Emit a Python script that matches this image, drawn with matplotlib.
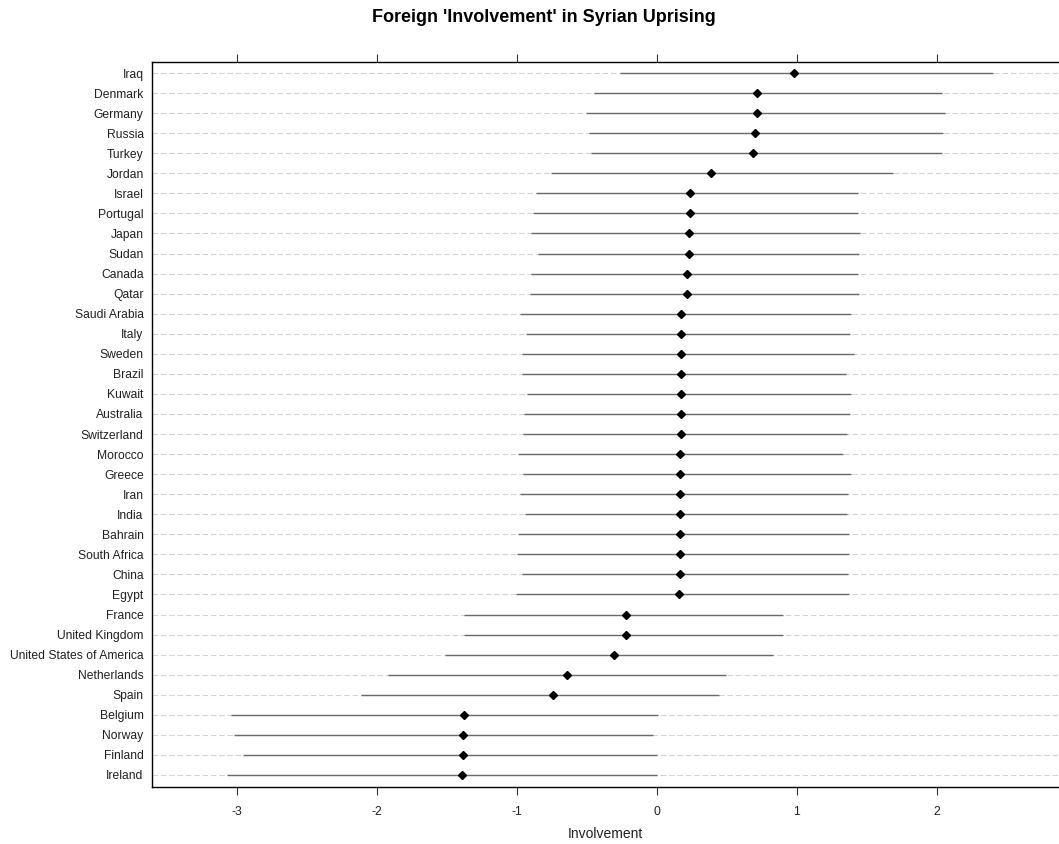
import matplotlib
matplotlib.use("Agg")
import matplotlib.pyplot as plt
import numpy as np

plt.rcParams['font.family'] = ['Liberation Sans', 'DejaVu Sans']

# countries, top to bottom
countries = ["Iraq", "Denmark", "Germany", "Russia", "Turkey", "Jordan", "Israel",
             "Portugal", "Japan", "Sudan", "Canada", "Qatar", "Saudi Arabia", "Italy",
             "Sweden", "Brazil", "Kuwait", "Australia", "Switzerland", "Morocco",
             "Greece", "Iran", "India", "Bahrain", "South Africa", "China", "Egypt",
             "France", "United Kingdom", "United States of America", "Netherlands",
             "Spain", "Belgium", "Norway", "Finland", "Ireland"]

estimate = [0.982, 0.712, 0.712, 0.699, 0.686, 0.384, 0.239, 0.239, 0.231, 0.231,
            0.219, 0.219, 0.176, 0.171, 0.171, 0.171, 0.171, 0.171, 0.171, 0.164,
            0.164, 0.164, 0.164, 0.164, 0.164, 0.164, 0.159, -0.217, -0.217, -0.303,
            -0.641, -0.744, -1.378, -1.386, -1.386, -1.393]

lower = [-0.26, -0.446, -0.505, -0.487, -0.472, -0.755, -0.861, -0.887, -0.90, -0.845,
         -0.895, -0.905, -0.976, -0.936, -0.962, -0.962, -0.926, -0.95, -0.957, -0.988,
         -0.957, -0.976, -0.943, -0.988, -0.995, -0.962, -1.002, -1.375, -1.375, -1.509,
         -1.917, -2.112, -3.042, -3.018, -2.956, -3.071]

upper = [2.40, 2.036, 2.06, 2.046, 2.036, 1.685, 1.438, 1.438, 1.453, 1.44,
         1.433, 1.44, 1.386, 1.379, 1.407, 1.348, 1.386, 1.379, 1.355, 1.326,
         1.386, 1.362, 1.355, 1.369, 1.369, 1.362, 1.369, 0.898, 0.90, 0.829,
         0.496, 0.446, 0.008, -0.027, 0.002, 0.002]

xticks = [-3, -2, -1, 0, 1, 2]

fig = plt.figure(figsize=(10.59, 8.44), dpi=100)
ax = fig.add_axes([152 / 1059, 57 / 844, (1059 - 152) / 1059, 725 / 844])

n = len(countries)
y = np.arange(n)[::-1]

for yi in y:
    ax.axhline(yi, color='#d4d4d4', lw=0.8, ls=(0, (5, 2.5)), zorder=1)

ax.hlines(y, lower, upper, color='#6a6a6a', lw=1.0, zorder=2)
ax.plot(estimate, y, 'D', color='black', ms=3.7, zorder=3)

ax.set_xlim(-3.6036, 2.871)
ax.set_ylim(-0.6, n - 1 + 0.55)
ax.set_yticks(y)
ax.set_yticklabels(countries, fontsize=8.7, color='#222222')
ax.tick_params(axis='y', length=0, pad=6)
ax.set_xticks(xticks)
ax.set_xticklabels([str(t) for t in xticks], fontsize=8.7, color='#222222')
ax.tick_params(axis='x', which='both', direction='out', length=6, width=0.8,
               top=True, labeltop=False, pad=8, color='#333333')
for side in ['left', 'top', 'bottom']:
    ax.spines[side].set_linewidth(1.0)
ax.spines['right'].set_visible(False)

ax.set_xlabel('Involvement', fontsize=10, color='#222222', labelpad=6)
fig.text(543.5 / 1059, 1 - 18 / 844, "Foreign 'Involvement' in Syrian Uprising",
         ha='center', va='center', fontsize=13, fontweight='bold')

fig.savefig('out.png', dpi=100)
